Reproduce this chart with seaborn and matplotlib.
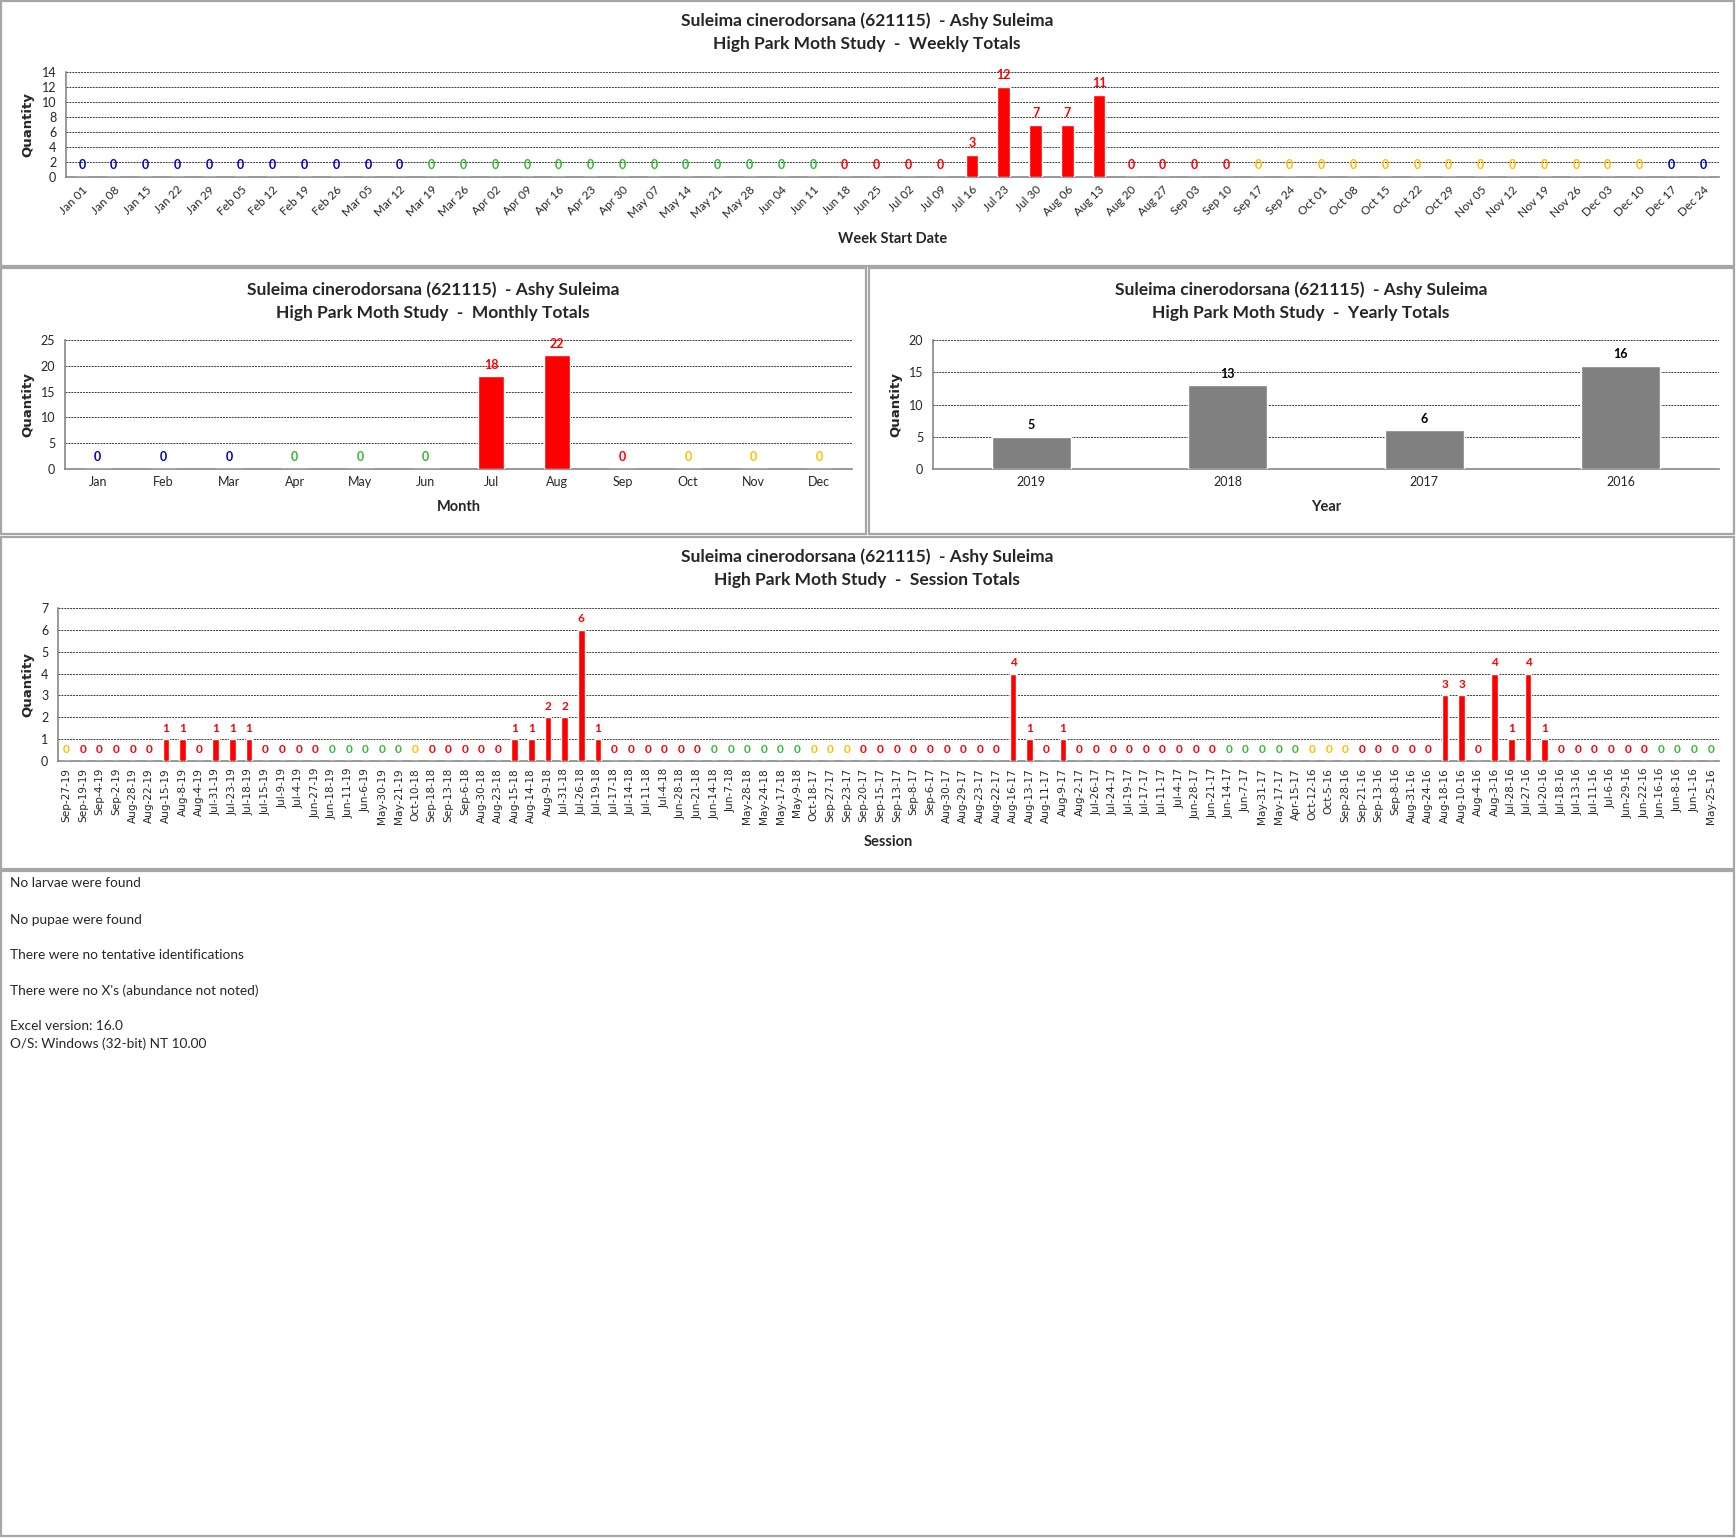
import datetime as dt
import pandas as pd
import seaborn as sns
import matplotlib.pyplot as plt
from matplotlib.patches import Rectangle

SPECIES = "Suleima cinerodorsana (621115)  - Ashy Suleima"
STUDY = "High Park Moth Study  -  "

week_starts = [
    "Jan 01", "Jan 08", "Jan 15", "Jan 22", "Jan 29", "Feb 05", "Feb 12", "Feb 19",
    "Feb 26", "Mar 05", "Mar 12", "Mar 19", "Mar 26", "Apr 02", "Apr 09", "Apr 16",
    "Apr 23", "Apr 30", "May 07", "May 14", "May 21", "May 28", "Jun 04", "Jun 11",
    "Jun 18", "Jun 25", "Jul 02", "Jul 09", "Jul 16", "Jul 23", "Jul 30", "Aug 06",
    "Aug 13", "Aug 20", "Aug 27", "Sep 03", "Sep 10", "Sep 17", "Sep 24", "Oct 01",
    "Oct 08", "Oct 15", "Oct 22", "Oct 29", "Nov 05", "Nov 12", "Nov 19", "Nov 26",
    "Dec 03", "Dec 10", "Dec 17", "Dec 24",
]
week_counts = [
    0, 0, 0, 0, 0, 0, 0, 0,
    0, 0, 0, 0, 0, 0, 0, 0,
    0, 0, 0, 0, 0, 0, 0, 0,
    0, 0, 0, 0, 3, 12, 7, 7,
    11, 0, 0, 0, 0, 0, 0, 0,
    0, 0, 0, 0, 0, 0, 0, 0,
    0, 0, 0, 0,
]

months = ["Jan", "Feb", "Mar", "Apr", "May", "Jun", "Jul", "Aug", "Sep", "Oct", "Nov", "Dec"]
month_counts = [0, 0, 0, 0, 0, 0, 18, 22, 0, 0, 0, 0]

years = ["2019", "2018", "2017", "2016"]
year_counts = [5, 13, 6, 16]

sessions = [
    "Sep-27-19", "Sep-19-19", "Sep-4-19", "Sep-2-19", "Aug-28-19", "Aug-22-19", "Aug-15-19",
    "Aug-8-19", "Aug-4-19", "Jul-31-19", "Jul-23-19", "Jul-18-19", "Jul-15-19", "Jul-9-19",
    "Jul-4-19", "Jun-27-19", "Jun-18-19", "Jun-11-19", "Jun-6-19", "May-30-19", "May-21-19",
    "Oct-10-18", "Sep-18-18", "Sep-13-18", "Sep-6-18", "Aug-30-18", "Aug-23-18", "Aug-15-18",
    "Aug-14-18", "Aug-9-18", "Jul-31-18", "Jul-26-18", "Jul-19-18", "Jul-17-18", "Jul-14-18",
    "Jul-11-18", "Jul-4-18", "Jun-28-18", "Jun-21-18", "Jun-14-18", "Jun-7-18", "May-28-18",
    "May-24-18", "May-17-18", "May-9-18", "Oct-18-17", "Sep-27-17", "Sep-23-17", "Sep-20-17",
    "Sep-15-17", "Sep-13-17", "Sep-8-17", "Sep-6-17", "Aug-30-17", "Aug-29-17", "Aug-23-17",
    "Aug-22-17", "Aug-16-17", "Aug-13-17", "Aug-11-17", "Aug-9-17", "Aug-2-17", "Jul-26-17",
    "Jul-24-17", "Jul-19-17", "Jul-17-17", "Jul-11-17", "Jul-4-17", "Jun-28-17", "Jun-21-17",
    "Jun-14-17", "Jun-7-17", "May-31-17", "May-17-17", "Apr-15-17", "Oct-12-16", "Oct-5-16",
    "Sep-28-16", "Sep-21-16", "Sep-13-16", "Sep-8-16", "Aug-31-16", "Aug-24-16", "Aug-18-16",
    "Aug-10-16", "Aug-4-16", "Aug-3-16", "Jul-28-16", "Jul-27-16", "Jul-20-16", "Jul-18-16",
    "Jul-13-16", "Jul-11-16", "Jul-6-16", "Jun-29-16", "Jun-22-16", "Jun-16-16", "Jun-8-16",
    "Jun-1-16", "May-25-16",
]
session_counts = [
    0, 0, 0, 0, 0, 0, 1,
    1, 0, 1, 1, 1, 0, 0,
    0, 0, 0, 0, 0, 0, 0,
    0, 0, 0, 0, 0, 0, 1,
    1, 2, 2, 6, 1, 0, 0,
    0, 0, 0, 0, 0, 0, 0,
    0, 0, 0, 0, 0, 0, 0,
    0, 0, 0, 0, 0, 0, 0,
    0, 4, 1, 0, 1, 0, 0,
    0, 0, 0, 0, 0, 0, 0,
    0, 0, 0, 0, 0, 0, 0,
    0, 0, 0, 0, 0, 0, 3,
    3, 0, 4, 1, 4, 1, 0,
    0, 0, 0, 0, 0, 0, 0,
    0, 0,
]

notes = [
    "No larvae were found",
    "No pupae were found",
    "There were no tentative identifications",
    "There were no X's (abundance not noted)",
    "Excel version: 16.0",
    "O/S: Windows (32-bit) NT 10.00",
]

SEASON_COLORS = {"winter": "#0000CC", "spring": "#33BB33", "summer": "#FF0000", "autumn": "#FFC000"}
BAR_RED = "#FF0000"
BAR_GREY = "#808080"
AXIS_GREY = "#868686"


def season(d):
    md = (d.month, d.day)
    if md >= (12, 21) or md < (3, 20):
        return "winter"
    if md < (6, 21):
        return "spring"
    if md < (9, 22):
        return "summer"
    return "autumn"


# weekly colour follows the season the week ends in
week_colors = [
    SEASON_COLORS[season(dt.datetime.strptime(w + " 2018", "%b %d %Y") + dt.timedelta(days=6))]
    for w in week_starts
]
session_colors = [SEASON_COLORS[season(dt.datetime.strptime(s, "%b-%d-%y"))] for s in sessions]
quarter = ["winter", "spring", "summer", "autumn"]
month_colors = [SEASON_COLORS[quarter[i // 3]] for i in range(12)]

sns.set_style("white")
plt.rcParams["font.family"] = ["Lato", "DejaVu Sans"]

W, H = 1736, 1538
fig = plt.figure(figsize=(W / 100, H / 100), dpi=100)


def px_box(x0, y0, x1, y1):
    # pixel box (top-left origin) -> figure fraction rect
    return [x0 / W, 1 - y1 / H, (x1 - x0) / W, (y1 - y0) / H]


def panel(x0, y0, x1, y1):
    fig.add_artist(Rectangle((x0 / W, 1 - y1 / H), (x1 - x0) / W, (y1 - y0) / H,
                             transform=fig.transFigure, fill=False,
                             edgecolor="#A6A6A6", linewidth=1.6))


def draw(box, labels, values, colors, bar_color, ymax, ystep, title, xlabel,
         ylab_x, tick_rot=0, tick_font=None, tick_size=7.5, label_size=7.5):
    ax = fig.add_axes(px_box(*box))
    df = pd.DataFrame({"cat": labels, "qty": values})
    sns.barplot(data=df, x="cat", y="qty", color=bar_color, width=0.4,
                saturation=1, ax=ax, zorder=3)
    n = len(labels)
    ax.set_xlim(-0.5, n - 0.5)
    ax.set_ylim(0, ymax)
    ax.set_yticks(range(0, ymax + 1, ystep))
    ax.yaxis.grid(True, linestyle=(0, (2, 1)), color="#3A3A3A", linewidth=0.7, zorder=0)
    ax.set_axisbelow(True)
    for s in ("top", "right"):
        ax.spines[s].set_visible(False)
    for s in ("left", "bottom"):
        ax.spines[s].set_color(AXIS_GREY)
        ax.spines[s].set_linewidth(1.2)
    ax.set_xticks([i - 0.5 for i in range(n + 1)], minor=True)
    ax.tick_params(axis="x", which="minor", length=5, color=AXIS_GREY, width=1)
    ax.tick_params(axis="x", which="major", length=0, pad=5)
    ax.tick_params(axis="y", length=4, color=AXIS_GREY, width=1, labelsize=9, pad=3)
    ax.set_xticks(range(n))
    if tick_rot == 45:
        ax.set_xticklabels(labels, rotation=45, ha="right", rotation_mode="anchor",
                           fontsize=tick_size)
    elif tick_rot == 90:
        ax.set_xticklabels(labels, rotation=90, ha="center", fontsize=tick_size,
                           family=tick_font)
    else:
        ax.set_xticklabels(labels, fontsize=tick_size)
    ax.set_xlabel("")
    ax.set_ylabel("")
    texts = ax.bar_label(ax.containers[0], labels=[str(v) for v in values], padding=4,
                         fontsize=label_size, fontweight="bold")
    for t, c in zip(texts, colors):
        t.set_color(c)
    x0, y0, x1, y1 = box
    cx = (x0 + x1) / 2 / W
    fig.text(ylab_x / W, 1 - (y0 + y1) / 2 / H, "Quantity", rotation=90, ha="center",
             va="center", fontsize=9.5, fontweight="bold", family="DejaVu Sans")
    fig.text(cx, 1 - xlabel[1] / H, xlabel[0], ha="center", va="center",
             fontsize=10.5, fontweight="bold")
    tx, ty1, ty2 = title
    fig.text(tx / W, 1 - ty1 / H, SPECIES, ha="center", va="center",
             fontsize=12.5, fontweight="bold")
    fig.text(tx / W, 1 - ty2 / H, STUDY + xlabel[2], ha="center", va="center",
             fontsize=12.5, fontweight="bold")
    return ax


# panels
panel(1, 1, 1734, 266)
panel(1, 268, 866, 534)
panel(869, 268, 1734, 534)
panel(1, 537, 1734, 869)
panel(1, 871, 1734, 1536)

draw((66, 72, 1719, 177), week_starts, week_counts, week_colors, BAR_RED, 14, 2,
     (867, 21, 44), ("Week Start Date", 239, "Weekly Totals"), 28, tick_rot=45,
     tick_size=8.5, label_size=9)
draw((65, 340, 852, 469), months, month_counts, month_colors, BAR_RED, 25, 5,
     (433, 290, 313), ("Month", 507, "Monthly Totals"), 28, tick_size=9, label_size=9)
draw((933, 340, 1719, 469), years, year_counts, ["#000000"] * 4, BAR_GREY, 20, 5,
     (1301, 290, 313), ("Year", 507, "Yearly Totals"), 896, tick_size=9, label_size=9)
draw((58, 608, 1719, 761), sessions, session_counts, session_colors, BAR_RED, 7, 1,
     (867, 557, 580), ("Session", 842, "Session Totals"), 28, tick_rot=90,
     tick_font="DejaVu Sans", tick_size=7.6, label_size=8.5)

for y, line in zip([883, 920, 955, 991, 1026, 1044], notes):
    fig.text(10 / W, 1 - y / H, line, ha="left", va="center", fontsize=9.8)

fig.savefig("out.png", dpi=100, facecolor="white")
